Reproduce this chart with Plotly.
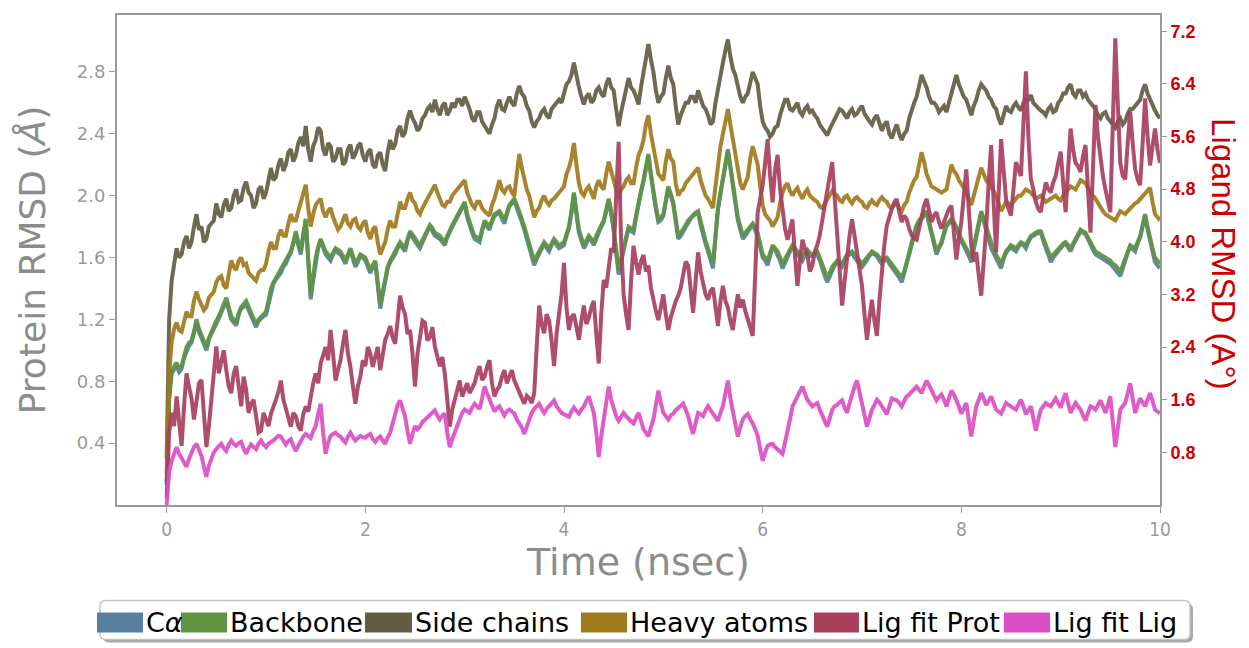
import plotly.graph_objects as go

# ---------------- data ----------------
# Values at every 0.05 ns ("*_at") and the readings in between them ("*_mid").
c_alpha_at = [
    0.13, 0.85, 0.90, 0.88, 1.00, 1.05, 1.18, 1.08, 1.00, 1.11, 1.17, 1.25, 1.32, 1.20, 1.16, 1.27, 1.30, 1.22, 1.15, 1.21,
    1.23, 1.38, 1.46, 1.50, 1.56, 1.63, 1.75, 1.62, 1.84, 1.33, 1.58, 1.71, 1.62, 1.58, 1.65, 1.62, 1.56, 1.65, 1.54, 1.61,
    1.58, 1.50, 1.57, 1.27, 1.46, 1.57, 1.62, 1.69, 1.64, 1.76, 1.70, 1.66, 1.73, 1.80, 1.74, 1.72, 1.68, 1.77, 1.83, 1.89,
    1.95, 1.80, 1.72, 1.70, 1.83, 1.78, 1.87, 1.89, 1.82, 1.93, 1.97, 1.88, 1.78, 1.66, 1.55, 1.62, 1.69, 1.64, 1.71, 1.66,
    1.68, 1.79, 2.01, 1.76, 1.66, 1.73, 1.68, 1.77, 1.83, 1.97, 1.78, 1.49, 1.64, 1.79, 1.76, 1.95, 2.09, 2.26, 2.00, 1.83,
    1.87, 2.05, 1.94, 1.72, 1.77, 1.83, 1.87, 1.89, 1.74, 1.64, 1.53, 1.91, 2.11, 2.29, 2.07, 1.84, 1.72, 1.77, 1.81, 1.74,
    1.60, 1.55, 1.67, 1.62, 1.53, 1.61, 1.67, 1.62, 1.58, 1.64, 1.61, 1.62, 1.52, 1.44, 1.52, 1.57, 1.54, 1.61, 1.63, 1.58,
    1.54, 1.59, 1.63, 1.61, 1.56, 1.59, 1.54, 1.50, 1.44, 1.55, 1.69, 1.80, 1.85, 1.89, 1.75, 1.62, 1.69, 1.80, 1.84, 1.79,
    1.71, 1.64, 1.57, 1.73, 1.89, 1.79, 1.66, 1.60, 1.53, 1.63, 1.67, 1.64, 1.69, 1.66, 1.73, 1.75, 1.76, 1.66, 1.57, 1.62,
    1.67, 1.69, 1.64, 1.71, 1.77, 1.75, 1.68, 1.62, 1.60, 1.58, 1.56, 1.52, 1.48, 1.59, 1.67, 1.64, 1.73, 1.87, 1.70, 1.57, 1.53,
]
c_alpha_mid = [
    0.68, 0.88, 0.86, 0.95, 1.03, 1.11, 1.12, 1.03, 1.07, 1.14, 1.21, 1.28, 1.26, 1.18, 1.23, 1.28, 1.26, 1.18, 1.19, 1.22,
    1.30, 1.43, 1.48, 1.54, 1.60, 1.69, 1.68, 1.74, 1.58, 1.45, 1.66, 1.66, 1.60, 1.62, 1.63, 1.59, 1.61, 1.59, 1.57, 1.60,
    1.54, 1.54, 1.42, 1.36, 1.53, 1.59, 1.66, 1.66, 1.71, 1.73, 1.68, 1.70, 1.77, 1.77, 1.73, 1.70, 1.73, 1.80, 1.86, 1.92,
    1.86, 1.76, 1.71, 1.77, 1.80, 1.83, 1.88, 1.85, 1.88, 1.95, 1.92, 1.83, 1.72, 1.60, 1.59, 1.66, 1.66, 1.68, 1.68, 1.67,
    1.74, 1.89, 1.88, 1.71, 1.69, 1.71, 1.72, 1.80, 1.90, 1.88, 1.63, 1.57, 1.72, 1.77, 1.86, 2.02, 2.17, 2.13, 1.91, 1.84,
    1.96, 2.00, 1.83, 1.74, 1.80, 1.85, 1.88, 1.81, 1.69, 1.58, 1.73, 2.01, 2.20, 2.18, 1.95, 1.78, 1.74, 1.79, 1.77, 1.67,
    1.58, 1.61, 1.65, 1.58, 1.57, 1.64, 1.64, 1.60, 1.62, 1.61, 1.62, 1.58, 1.48, 1.48, 1.55, 1.55, 1.58, 1.62, 1.60, 1.56,
    1.56, 1.61, 1.62, 1.58, 1.58, 1.56, 1.52, 1.47, 1.50, 1.62, 1.75, 1.83, 1.87, 1.82, 1.68, 1.66, 1.75, 1.82, 1.82, 1.74,
    1.68, 1.61, 1.66, 1.81, 1.84, 1.72, 1.63, 1.56, 1.59, 1.65, 1.65, 1.67, 1.68, 1.70, 1.74, 1.76, 1.70, 1.62, 1.60, 1.65,
    1.68, 1.66, 1.68, 1.74, 1.76, 1.72, 1.65, 1.61, 1.59, 1.57, 1.54, 1.50, 1.53, 1.63, 1.65, 1.69, 1.80, 1.78, 1.64, 1.55,
]

backbone_at = [
    0.15, 0.87, 0.92, 0.90, 1.02, 1.06, 1.20, 1.10, 1.02, 1.12, 1.19, 1.26, 1.34, 1.22, 1.18, 1.28, 1.32, 1.24, 1.17, 1.22,
    1.25, 1.40, 1.47, 1.52, 1.58, 1.64, 1.77, 1.64, 1.85, 1.36, 1.60, 1.72, 1.64, 1.60, 1.66, 1.64, 1.58, 1.66, 1.56, 1.62,
    1.60, 1.52, 1.58, 1.30, 1.48, 1.58, 1.64, 1.70, 1.66, 1.77, 1.72, 1.68, 1.74, 1.81, 1.76, 1.74, 1.70, 1.78, 1.84, 1.90,
    1.96, 1.82, 1.74, 1.72, 1.84, 1.80, 1.88, 1.90, 1.84, 1.94, 1.98, 1.90, 1.80, 1.68, 1.58, 1.64, 1.70, 1.66, 1.72, 1.68,
    1.70, 1.80, 2.02, 1.78, 1.68, 1.74, 1.70, 1.78, 1.84, 1.98, 1.80, 1.52, 1.66, 1.80, 1.78, 1.96, 2.10, 2.27, 2.02, 1.85,
    1.88, 2.06, 1.96, 1.74, 1.78, 1.84, 1.88, 1.90, 1.76, 1.66, 1.56, 1.92, 2.12, 2.30, 2.08, 1.86, 1.74, 1.78, 1.82, 1.76,
    1.62, 1.58, 1.68, 1.64, 1.56, 1.62, 1.68, 1.64, 1.60, 1.65, 1.62, 1.64, 1.55, 1.47, 1.54, 1.58, 1.56, 1.62, 1.64, 1.60,
    1.56, 1.60, 1.64, 1.62, 1.58, 1.60, 1.56, 1.52, 1.47, 1.56, 1.70, 1.81, 1.86, 1.90, 1.76, 1.64, 1.70, 1.81, 1.85, 1.80,
    1.72, 1.66, 1.60, 1.74, 1.90, 1.80, 1.68, 1.62, 1.56, 1.64, 1.68, 1.66, 1.70, 1.68, 1.74, 1.76, 1.77, 1.68, 1.60, 1.64,
    1.68, 1.70, 1.66, 1.72, 1.78, 1.76, 1.70, 1.64, 1.62, 1.60, 1.58, 1.55, 1.51, 1.60, 1.68, 1.66, 1.74, 1.88, 1.72, 1.60, 1.56,
]
backbone_mid = [
    0.70, 0.90, 0.88, 0.96, 1.05, 1.12, 1.14, 1.05, 1.08, 1.16, 1.22, 1.30, 1.28, 1.20, 1.24, 1.30, 1.28, 1.20, 1.20, 1.24,
    1.32, 1.44, 1.50, 1.55, 1.62, 1.70, 1.70, 1.75, 1.60, 1.48, 1.67, 1.68, 1.62, 1.63, 1.65, 1.61, 1.62, 1.61, 1.59, 1.61,
    1.56, 1.55, 1.44, 1.38, 1.54, 1.61, 1.67, 1.68, 1.72, 1.75, 1.70, 1.71, 1.78, 1.79, 1.75, 1.72, 1.74, 1.81, 1.87, 1.93,
    1.88, 1.78, 1.73, 1.78, 1.82, 1.84, 1.89, 1.87, 1.89, 1.96, 1.94, 1.85, 1.74, 1.63, 1.61, 1.67, 1.68, 1.69, 1.70, 1.69,
    1.75, 1.90, 1.90, 1.73, 1.71, 1.72, 1.74, 1.81, 1.91, 1.90, 1.66, 1.59, 1.73, 1.79, 1.87, 2.03, 2.18, 2.14, 1.93, 1.86,
    1.97, 2.01, 1.85, 1.76, 1.81, 1.86, 1.89, 1.83, 1.71, 1.61, 1.74, 2.02, 2.21, 2.19, 1.97, 1.80, 1.76, 1.80, 1.79, 1.69,
    1.60, 1.63, 1.66, 1.60, 1.59, 1.65, 1.66, 1.62, 1.63, 1.63, 1.63, 1.60, 1.51, 1.50, 1.56, 1.57, 1.59, 1.63, 1.62, 1.58,
    1.58, 1.62, 1.63, 1.60, 1.59, 1.58, 1.54, 1.50, 1.51, 1.63, 1.76, 1.84, 1.88, 1.83, 1.70, 1.67, 1.76, 1.83, 1.83, 1.76,
    1.69, 1.63, 1.67, 1.82, 1.85, 1.74, 1.65, 1.59, 1.60, 1.66, 1.67, 1.68, 1.69, 1.71, 1.75, 1.77, 1.72, 1.64, 1.62, 1.66,
    1.69, 1.68, 1.69, 1.75, 1.77, 1.73, 1.67, 1.63, 1.61, 1.59, 1.56, 1.53, 1.55, 1.64, 1.67, 1.70, 1.81, 1.80, 1.66, 1.58,
]

side_chains_at = [
    0.30, 1.45, 1.66, 1.62, 1.74, 1.70, 1.88, 1.80, 1.72, 1.82, 1.95, 1.86, 1.98, 1.92, 2.04, 1.97, 2.09, 2.00, 1.95, 2.06,
    2.02, 2.18, 2.12, 2.24, 2.20, 2.30, 2.26, 2.38, 2.45, 2.22, 2.36, 2.42, 2.26, 2.32, 2.24, 2.30, 2.22, 2.33, 2.27, 2.34,
    2.22, 2.30, 2.18, 2.28, 2.16, 2.36, 2.33, 2.45, 2.41, 2.55, 2.47, 2.44, 2.52, 2.58, 2.62, 2.52, 2.60, 2.55, 2.57, 2.62,
    2.64, 2.56, 2.48, 2.54, 2.45, 2.40, 2.50, 2.62, 2.55, 2.64, 2.58, 2.71, 2.64, 2.55, 2.44, 2.50, 2.56, 2.50, 2.58, 2.62,
    2.66, 2.74, 2.86, 2.70, 2.59, 2.66, 2.62, 2.70, 2.64, 2.76, 2.68, 2.45, 2.62, 2.76, 2.68, 2.59, 2.80, 2.98, 2.80, 2.60,
    2.66, 2.84, 2.72, 2.46, 2.56, 2.60, 2.64, 2.68, 2.58, 2.52, 2.48, 2.70, 2.86, 3.01, 2.82, 2.70, 2.60, 2.66, 2.80, 2.72,
    2.48, 2.42, 2.40, 2.45, 2.58, 2.62, 2.55, 2.60, 2.52, 2.58, 2.55, 2.50, 2.44, 2.39, 2.46, 2.52, 2.55, 2.50, 2.56, 2.53,
    2.58, 2.50, 2.46, 2.52, 2.42, 2.48, 2.37, 2.46, 2.36, 2.42, 2.56, 2.64, 2.78, 2.70, 2.60, 2.58, 2.56, 2.54, 2.66, 2.78,
    2.68, 2.62, 2.52, 2.62, 2.72, 2.68, 2.62, 2.56, 2.46, 2.58, 2.54, 2.60, 2.55, 2.62, 2.65, 2.58, 2.55, 2.52, 2.58, 2.55,
    2.62, 2.66, 2.72, 2.64, 2.68, 2.66, 2.60, 2.56, 2.50, 2.54, 2.48, 2.44, 2.50, 2.48, 2.56, 2.58, 2.62, 2.72, 2.62, 2.55, 2.50,
]
side_chains_mid = [
    1.20, 1.58, 1.60, 1.70, 1.66, 1.80, 1.78, 1.70, 1.80, 1.84, 1.88, 1.94, 1.90, 2.00, 1.96, 2.05, 2.02, 1.92, 2.04, 1.98,
    2.12, 2.10, 2.20, 2.16, 2.28, 2.22, 2.34, 2.32, 2.30, 2.32, 2.44, 2.30, 2.34, 2.22, 2.30, 2.20, 2.30, 2.24, 2.32, 2.26,
    2.28, 2.20, 2.26, 2.20, 2.28, 2.30, 2.42, 2.38, 2.50, 2.50, 2.42, 2.50, 2.56, 2.54, 2.56, 2.58, 2.52, 2.60, 2.62, 2.58,
    2.60, 2.50, 2.54, 2.48, 2.42, 2.46, 2.58, 2.56, 2.60, 2.60, 2.66, 2.66, 2.58, 2.48, 2.48, 2.54, 2.52, 2.56, 2.60, 2.60,
    2.72, 2.78, 2.76, 2.64, 2.64, 2.60, 2.68, 2.66, 2.72, 2.70, 2.56, 2.54, 2.70, 2.70, 2.64, 2.70, 2.90, 2.88, 2.68, 2.64,
    2.76, 2.76, 2.58, 2.52, 2.60, 2.64, 2.60, 2.62, 2.56, 2.46, 2.60, 2.76, 2.94, 2.90, 2.78, 2.64, 2.64, 2.74, 2.76, 2.58,
    2.44, 2.38, 2.44, 2.52, 2.62, 2.56, 2.58, 2.54, 2.56, 2.54, 2.52, 2.46, 2.42, 2.43, 2.50, 2.56, 2.52, 2.54, 2.52, 2.56,
    2.53, 2.48, 2.50, 2.46, 2.46, 2.40, 2.42, 2.40, 2.40, 2.50, 2.60, 2.72, 2.74, 2.64, 2.60, 2.54, 2.58, 2.60, 2.72, 2.72,
    2.64, 2.56, 2.58, 2.68, 2.70, 2.64, 2.58, 2.50, 2.52, 2.55, 2.58, 2.57, 2.60, 2.62, 2.60, 2.56, 2.54, 2.56, 2.54, 2.60,
    2.66, 2.70, 2.66, 2.68, 2.64, 2.62, 2.58, 2.52, 2.53, 2.50, 2.46, 2.48, 2.46, 2.53, 2.56, 2.61, 2.68, 2.66, 2.58, 2.52,
]

heavy_atoms_at = [
    0.20, 1.05, 1.18, 1.12, 1.25, 1.22, 1.38, 1.30, 1.28, 1.36, 1.44, 1.48, 1.40, 1.58, 1.52, 1.60, 1.56, 1.48, 1.45, 1.52,
    1.56, 1.70, 1.66, 1.78, 1.74, 1.88, 1.84, 1.96, 2.07, 1.80, 1.94, 1.98, 1.86, 1.92, 1.82, 1.80, 1.88, 1.80, 1.85, 1.78,
    1.84, 1.72, 1.80, 1.62, 1.70, 1.84, 1.80, 1.96, 1.92, 2.02, 1.95, 1.88, 1.95, 2.00, 2.07, 1.98, 1.93, 1.96, 2.02, 2.06,
    2.10, 1.98, 1.92, 1.96, 1.90, 1.87, 1.98, 2.10, 2.02, 2.06, 2.00, 2.27, 2.10, 2.00, 1.86, 1.92, 2.00, 1.94, 1.98, 2.02,
    2.06, 2.18, 2.34, 2.08, 2.00, 2.06, 1.98, 2.10, 2.04, 2.22, 2.10, 1.98, 2.06, 2.12, 2.08, 2.26, 2.36, 2.52, 2.30, 2.14,
    2.10, 2.30, 2.22, 2.00, 2.04, 2.10, 2.14, 2.18, 2.05, 1.98, 1.92, 2.20, 2.40, 2.56, 2.36, 2.16, 2.04, 2.12, 2.32, 2.20,
    1.94, 1.86, 1.80, 1.86, 2.02, 2.08, 2.00, 2.05, 1.98, 2.04, 1.98, 1.96, 1.92, 1.98, 2.03, 2.00, 1.96, 2.00, 1.95, 1.99,
    1.96, 1.92, 1.97, 1.94, 1.99, 1.96, 1.92, 1.95, 1.90, 1.96, 2.06, 2.12, 2.28, 2.14, 2.06, 2.04, 2.02, 2.04, 2.20, 2.14,
    2.08, 2.02, 1.94, 2.06, 2.18, 2.10, 2.06, 2.00, 1.90, 1.96, 1.94, 1.98, 2.00, 2.04, 2.02, 1.98, 2.00, 1.96, 1.98, 2.00,
    1.97, 2.02, 2.06, 2.04, 2.10, 2.08, 2.02, 1.98, 1.92, 1.88, 1.86, 1.84, 1.90, 1.88, 1.92, 1.95, 1.98, 2.02, 2.05, 1.88, 1.84,
]
heavy_atoms_mid = [
    0.85, 1.14, 1.13, 1.20, 1.22, 1.32, 1.33, 1.26, 1.34, 1.38, 1.47, 1.42, 1.50, 1.54, 1.58, 1.55, 1.50, 1.46, 1.50, 1.52,
    1.64, 1.66, 1.74, 1.74, 1.82, 1.84, 1.90, 2.00, 1.92, 1.88, 1.96, 1.90, 1.90, 1.86, 1.78, 1.85, 1.82, 1.84, 1.80, 1.82,
    1.76, 1.78, 1.70, 1.66, 1.78, 1.80, 1.88, 1.92, 1.98, 1.97, 1.90, 1.92, 1.98, 2.04, 2.02, 1.94, 1.96, 2.00, 2.04, 2.08,
    2.02, 1.94, 1.96, 1.92, 1.88, 1.94, 2.04, 2.04, 2.05, 2.02, 2.14, 2.18, 2.04, 1.92, 1.90, 1.97, 1.96, 1.97, 2.00, 2.03,
    2.14, 2.24, 2.20, 2.02, 2.04, 2.02, 2.06, 2.06, 2.14, 2.16, 2.02, 2.04, 2.10, 2.08, 2.18, 2.30, 2.46, 2.40, 2.20, 2.12,
    2.22, 2.24, 2.08, 2.03, 2.08, 2.12, 2.15, 2.10, 2.00, 1.95, 2.06, 2.32, 2.48, 2.46, 2.24, 2.08, 2.08, 2.24, 2.26, 2.06,
    1.88, 1.84, 1.83, 1.95, 2.06, 2.03, 2.03, 2.01, 2.02, 2.00, 1.97, 1.93, 1.95, 2.01, 2.01, 1.97, 1.99, 1.97, 1.98, 1.97,
    1.93, 1.95, 1.95, 1.97, 1.97, 1.93, 1.94, 1.92, 1.94, 2.02, 2.10, 2.20, 2.22, 2.10, 2.05, 2.03, 2.03, 2.12, 2.16, 2.10,
    2.05, 1.97, 2.00, 2.12, 2.14, 2.08, 2.03, 1.94, 1.93, 1.95, 1.96, 2.00, 2.02, 2.03, 2.00, 1.99, 1.98, 1.97, 1.99, 1.98,
    2.00, 2.04, 2.05, 2.07, 2.09, 2.05, 2.00, 1.95, 1.90, 1.87, 1.85, 1.87, 1.89, 1.90, 1.94, 1.96, 2.00, 2.04, 1.96, 1.86,
]

lig_fit_prot_at = [
    0.10, 1.40, 1.65, 0.90, 2.00, 1.62, 1.55, 1.90, 0.88, 1.66, 2.41, 2.20, 2.05, 1.70, 2.11, 1.50, 1.75, 1.54, 1.35, 1.13,
    1.30, 1.39, 1.60, 1.89, 1.45, 1.19, 1.35, 1.13, 1.50, 1.65, 2.00, 2.15, 2.40, 2.66, 1.89, 2.20, 2.66, 2.10, 1.54, 1.95,
    2.11, 2.30, 2.26, 2.05, 2.51, 2.72, 2.45, 3.18, 2.90, 2.66, 1.80, 2.61, 2.77, 2.55, 2.41, 2.11, 2.00, 1.19, 1.60, 1.89,
    1.75, 1.70, 1.85, 2.11, 1.95, 2.20, 1.65, 1.80, 2.05, 1.95, 1.89, 1.70, 1.54, 1.62, 1.70, 3.03, 2.61, 2.80, 2.11, 2.92,
    3.68, 2.66, 2.90, 2.51, 3.03, 2.85, 3.10, 2.15, 3.42, 3.60, 3.84, 5.52, 3.20, 2.66, 3.94, 3.50, 3.80, 3.64, 3.10, 2.81,
    3.20, 2.66, 3.00, 3.18, 3.50, 3.64, 2.92, 3.84, 3.40, 3.12, 3.30, 2.72, 3.33, 3.00, 2.66, 3.20, 3.12, 2.80, 2.57, 4.45,
    4.86, 5.56, 4.60, 5.32, 4.45, 4.03, 4.34, 3.33, 4.03, 3.80, 3.64, 3.95, 4.34, 4.80, 5.21, 4.19, 3.03, 3.80, 4.34, 3.90,
    3.33, 2.51, 3.12, 2.57, 3.60, 4.25, 4.50, 4.65, 4.30, 4.34, 4.10, 4.03, 4.40, 4.65, 4.30, 4.45, 4.20, 4.40, 4.55, 3.73,
    4.30, 5.10, 3.94, 3.84, 3.18, 4.20, 5.47, 3.84, 5.56, 4.65, 4.40, 5.21, 5.00, 6.59, 4.95, 4.60, 4.45, 4.90, 4.75, 5.00,
    5.37, 4.45, 5.72, 5.20, 5.06, 5.47, 4.14, 6.08, 5.26, 4.80, 4.45, 7.09, 5.20, 4.95, 5.98, 5.10, 4.86, 6.18, 5.16, 5.72, 5.20,
]
lig_fit_prot_mid = [
    1.10, 1.20, 1.30, 1.50, 1.80, 1.30, 1.85, 1.40, 1.20, 2.10, 2.00, 2.35, 1.80, 2.00, 1.80, 1.95, 1.40, 1.60, 1.10, 1.40,
    1.20, 1.52, 1.72, 1.60, 1.30, 1.40, 1.20, 1.38, 1.42, 1.85, 1.85, 2.30, 2.20, 2.30, 2.05, 2.45, 2.30, 1.80, 1.80, 2.20,
    2.40, 2.10, 2.40, 2.30, 2.60, 2.55, 2.80, 3.00, 2.60, 2.30, 2.30, 2.80, 2.50, 2.70, 2.25, 2.25, 1.60, 1.45, 1.80, 1.65,
    1.85, 1.78, 2.00, 1.90, 2.10, 1.85, 1.75, 1.95, 1.85, 2.05, 1.80, 1.60, 1.66, 1.55, 2.40, 2.75, 2.90, 2.50, 2.60, 3.20,
    3.00, 2.85, 2.70, 2.80, 2.75, 3.00, 2.60, 2.90, 3.30, 3.90, 4.60, 4.00, 2.90, 3.40, 3.70, 3.70, 3.55, 3.30, 2.95, 3.05,
    2.90, 2.85, 3.10, 3.30, 3.70, 3.20, 3.40, 3.55, 3.20, 3.25, 2.95, 3.10, 3.10, 2.80, 2.95, 3.00, 2.95, 2.70, 3.60, 4.65,
    5.20, 5.00, 5.10, 4.80, 4.20, 4.20, 3.80, 3.70, 3.90, 3.55, 3.85, 4.10, 4.60, 5.00, 4.70, 3.60, 3.40, 4.10, 4.10, 3.60,
    2.90, 2.85, 2.80, 3.10, 3.95, 4.40, 4.60, 4.45, 4.40, 4.20, 4.05, 4.20, 4.55, 4.45, 4.40, 4.30, 4.30, 4.50, 4.10, 4.05,
    4.70, 4.50, 3.70, 3.50, 3.70, 4.90, 4.60, 4.70, 5.10, 4.50, 4.80, 5.10, 5.80, 5.60, 4.80, 4.50, 4.70, 4.80, 4.90, 5.20,
    4.90, 5.10, 5.40, 5.15, 5.30, 4.80, 5.10, 5.60, 5.00, 4.60, 5.80, 6.10, 5.00, 5.50, 5.50, 4.95, 5.50, 5.60, 5.45, 5.40,
]

lig_fit_lig_at = [
    0.00, 0.67, 0.88, 0.72, 0.58, 0.80, 0.93, 0.75, 0.43, 0.70, 0.85, 0.93, 0.82, 0.98, 0.90, 0.96, 0.78, 0.92, 0.85, 0.98,
    0.88, 0.95, 1.02, 1.04, 0.92, 1.00, 0.82, 0.98, 1.08, 1.02, 1.20, 1.54, 0.78, 1.05, 1.10, 1.04, 0.95, 1.10, 0.98, 1.05,
    1.02, 1.08, 0.96, 1.04, 0.93, 1.10, 1.40, 1.59, 1.35, 0.93, 1.20, 1.19, 1.30, 1.38, 1.44, 1.30, 1.39, 0.88, 1.10, 1.34,
    1.45, 1.40, 1.54, 1.46, 1.80, 1.60, 1.42, 1.50, 1.36, 1.45, 1.39, 1.25, 1.08, 1.30, 1.46, 1.54, 1.40, 1.50, 1.59, 1.44,
    1.38, 1.34, 1.48, 1.39, 1.50, 1.65, 1.40, 0.73, 1.30, 1.80, 1.45, 1.28, 1.40, 1.30, 1.24, 1.40, 1.15, 1.04, 1.30, 1.74,
    1.40, 1.30, 1.39, 1.48, 1.54, 1.35, 1.08, 1.40, 1.35, 1.50, 1.38, 1.28, 1.50, 1.89, 1.40, 1.04, 1.30, 1.38, 1.24, 1.05,
    0.67, 0.90, 0.93, 0.85, 0.78, 1.10, 1.50, 1.65, 1.80, 1.60, 1.50, 1.55, 1.35, 1.19, 1.45, 1.52, 1.59, 1.40, 1.70, 1.89,
    1.55, 1.19, 1.45, 1.60, 1.50, 1.38, 1.62, 1.59, 1.50, 1.65, 1.72, 1.80, 1.70, 1.89, 1.75, 1.59, 1.68, 1.50, 1.74, 1.60,
    1.39, 1.55, 1.04, 1.50, 1.70, 1.52, 1.65, 1.45, 1.39, 1.55, 1.50, 1.45, 1.60, 1.38, 1.50, 1.13, 1.45, 1.55, 1.50, 1.62,
    1.48, 1.70, 1.40, 1.55, 1.45, 1.28, 1.50, 1.45, 1.59, 1.40, 1.65, 0.88, 1.45, 1.55, 1.85, 1.40, 1.62, 1.50, 1.70, 1.45, 1.39,
]
lig_fit_lig_mid = [
    0.50, 0.80, 0.78, 0.66, 0.70, 0.88, 0.84, 0.58, 0.60, 0.80, 0.90, 0.86, 0.92, 0.93, 0.94, 0.86, 0.86, 0.88, 0.93, 0.92,
    0.93, 0.98, 1.05, 0.97, 0.97, 0.90, 0.90, 1.04, 1.04, 1.12, 1.38, 1.10, 0.95, 1.08, 1.06, 0.99, 1.04, 1.03, 1.02, 1.03,
    1.06, 1.00, 1.01, 0.98, 1.03, 1.24, 1.52, 1.48, 1.12, 1.08, 1.15, 1.26, 1.33, 1.42, 1.36, 1.36, 1.10, 1.00, 1.24, 1.40,
    1.42, 1.48, 1.50, 1.62, 1.70, 1.50, 1.47, 1.43, 1.42, 1.42, 1.30, 1.18, 1.20, 1.40, 1.50, 1.46, 1.46, 1.56, 1.50, 1.40,
    1.36, 1.42, 1.43, 1.45, 1.58, 1.52, 1.10, 1.05, 1.56, 1.60, 1.35, 1.34, 1.35, 1.27, 1.33, 1.28, 1.10, 1.18, 1.52, 1.55,
    1.35, 1.36, 1.44, 1.50, 1.45, 1.20, 1.25, 1.38, 1.44, 1.44, 1.32, 1.40, 1.70, 1.62, 1.20, 1.18, 1.35, 1.30, 1.15, 0.85,
    0.80, 0.92, 0.88, 0.82, 0.95, 1.30, 1.58, 1.72, 1.70, 1.55, 1.53, 1.45, 1.26, 1.32, 1.50, 1.56, 1.48, 1.55, 1.80, 1.70,
    1.36, 1.32, 1.52, 1.56, 1.44, 1.50, 1.60, 1.55, 1.58, 1.68, 1.76, 1.75, 1.80, 1.82, 1.66, 1.64, 1.60, 1.62, 1.68, 1.50,
    1.47, 1.30, 1.28, 1.60, 1.62, 1.58, 1.55, 1.42, 1.47, 1.52, 1.48, 1.53, 1.50, 1.44, 1.32, 1.30, 1.50, 1.52, 1.56, 1.55,
    1.60, 1.55, 1.48, 1.50, 1.36, 1.40, 1.48, 1.52, 1.50, 1.52, 1.26, 1.16, 1.50, 1.70, 1.62, 1.52, 1.56, 1.60, 1.58, 1.42,
]

series_names = ["C<i>α</i>", "Backbone", "Side chains", "Heavy atoms", "Lig fit Prot", "Lig fit Lig"]
series_colors = ["#56809E", "#5E9442", "#625D43", "#A07A1C", "#A8405E", "#DC4EC6"]
series_axes = ["y", "y", "y", "y", "y2", "y2"]

x_ticks = [0, 2, 4, 6, 8, 10]
left_ticks = [0.4, 0.8, 1.2, 1.6, 2.0, 2.4, 2.8]
right_ticks = [0.8, 1.6, 2.4, 3.2, 4.0, 4.8, 5.6, 6.4, 7.2]


def merge(at, mid):
    out = []
    for a, m in zip(at, mid):
        out += [a, m]
    out.append(at[-1])
    return out


series_values = [
    merge(c_alpha_at, c_alpha_mid),
    merge(backbone_at, backbone_mid),
    merge(side_chains_at, side_chains_mid),
    merge(heavy_atoms_at, heavy_atoms_mid),
    merge(lig_fit_prot_at, lig_fit_prot_mid),
    merge(lig_fit_lig_at, lig_fit_lig_mid),
]
time_ns = [round(i * 0.025, 3) for i in range(len(series_values[0]))]

# ---------------- figure ----------------
OFF = 8                      # page body margin of the written html
W, H = 1249 - OFF, 648 - OFF
L, R, T, B = 117, 1160, 13, 505  # plot-area box in screenshot pixels

fig = go.Figure()
for name, vals, col, ax in zip(series_names, series_values, series_colors, series_axes):
    fig.add_trace(go.Scatter(
        x=time_ns, y=vals, mode="lines", name=name, yaxis=ax,
        line=dict(color=col, width=4.0), opacity=0.92, showlegend=False,
    ))


def px_x(px):
    return (px - L) / (R - L)


def px_y(py):
    return (B - py) / (B - T)


def rounded_path(x0, y0, x1, y1, r):
    rx = r / (R - L)
    ry = r / (B - T)
    a, b, c, d = px_x(x0), px_y(y1), px_x(x1), px_y(y0)
    return (f"M {a+rx},{d} L {c-rx},{d} Q {c},{d} {c},{d-ry} "
            f"L {c},{b+ry} Q {c},{b} {c-rx},{b} L {a+rx},{b} "
            f"Q {a},{b} {a},{b+ry} L {a},{d-ry} Q {a},{d} {a+rx},{d} Z")


shapes = [
    dict(type="path", xref="paper", yref="paper", path=rounded_path(103, 604, 1193, 643, 6),
         fillcolor="#a8a8a8", line=dict(width=0)),
    dict(type="path", xref="paper", yref="paper", path=rounded_path(100, 601, 1190, 640, 6),
         fillcolor="white", line=dict(color="#c4c4c4", width=1.5)),
]
annotations = []
swatch_px = [(97, 143), (181, 227), (365, 412), (581, 627), (814, 859), (1004, 1050)]
for (sx0, sx1), name, col in zip(swatch_px, series_names, series_colors):
    shapes.append(dict(type="rect", xref="paper", yref="paper",
                       x0=px_x(sx0), x1=px_x(sx1), y0=px_y(633), y1=px_y(613),
                       fillcolor=col, line=dict(width=0)))
    annotations.append(dict(xref="paper", yref="paper", x=px_x(sx1 + 0.5), y=px_y(623),
                            xanchor="left", yanchor="middle", text=name, showarrow=False,
                            font=dict(family="DejaVu Sans", size=27, color="black")))

annotations.append(dict(xref="paper", yref="paper", x=px_x(1224), y=px_y(253),
                        xanchor="center", yanchor="middle", textangle=90, showarrow=False,
                        text="Ligand RMSD (A°)",
                        font=dict(family="Liberation Sans, Arial", size=33, color="#CC0000")))

grey = "#9a9a9a"
fig.update_layout(
    width=W, height=H,
    margin=dict(l=L - OFF, r=W - (R - OFF), t=T - OFF, b=H - (B - OFF), pad=0),
    paper_bgcolor="white", plot_bgcolor="white",
    xaxis=dict(range=[-0.5, 10], tickvals=x_ticks, ticks="outside", ticklen=6, tickcolor=grey,
               showline=True, linecolor=grey, linewidth=2, mirror=True,
               showgrid=False, zeroline=False,
               tickfont=dict(family="DejaVu Sans Condensed, DejaVu Sans", size=19, color=grey),
               title=dict(text="Time (nsec)", standoff=6,
                          font=dict(family="DejaVu Sans", size=38, color="#8c8c8c"))),
    yaxis=dict(range=[0, 3.168], tickvals=left_ticks, tickformat=".1f", ticks="outside",
               ticklen=6, tickcolor=grey, showline=True, linecolor=grey, linewidth=2,
               mirror=True, showgrid=False, zeroline=False,
               tickfont=dict(family="DejaVu Sans", size=18, color=grey),
               title=dict(text="Protein RMSD (<i>Å</i>)", standoff=20,
                          font=dict(family="DejaVu Sans", size=36, color="#8c8c8c"))),
    yaxis2=dict(range=[0, 7.446], overlaying="y", side="right", tickvals=right_ticks,
                tickformat=".1f", ticks="outside", ticklen=6, tickcolor=grey,
                showline=False, showgrid=False, zeroline=False,
                tickfont=dict(family="Liberation Sans, Arial", size=18, color="#CC0000",
                              weight="bold")),
    shapes=shapes,
    annotations=annotations,
)

fig.write_html("out.html")
